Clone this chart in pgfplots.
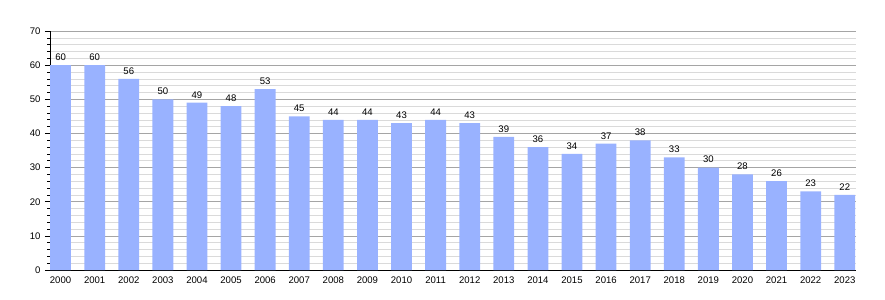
\documentclass[border=0pt]{standalone}
\usepackage{pgfplots}
\pgfplotsset{compat=1.18}
\usepackage{fontspec}
\setmainfont{Liberation Sans}
\definecolor{barblue}{RGB}{153,178,255}
\definecolor{majgrid}{RGB}{165,165,165}
\definecolor{mingrid}{RGB}{218,218,218}
\begin{document}
\begin{tikzpicture}
\path[use as bounding box] (0,0) rectangle (885bp,300bp);
\begin{axis}[
  at={(50bp,30bp)}, anchor=south west,
  scale only axis, width=806bp, height=239bp,
  ymin=0, ymax=70, xmin=-0.31, xmax=23.33,
  ytick={0,10,...,70}, minor y tick num=4,
  xtick={0,...,23},
  xticklabels={2000,2001,2002,2003,2004,2005,2006,2007,2008,2009,2010,2011,2012,2013,2014,2015,2016,2017,2018,2019,2020,2021,2022,2023},
  axis x line*=bottom, axis y line*=left,
  axis line style={black, -},
  x axis line style={line width=0.9pt},
  ymajorgrids, yminorgrids,
  major grid style={majgrid, line width=0.6pt},
  minor grid style={mingrid, line width=0.5pt},
  tick align=outside,
  major tick length=5bp, minor tick length=3bp,
  x tick style={draw=none},
  y tick style={black, line width=0.6pt},
  tick label style={font=\fontsize{9.6}{11}\selectfont},
  /pgf/number format/assume math mode=true,
  xticklabel style={yshift=1.5bp},
  yticklabel style={xshift=-1bp},
  ybar, bar width=0.61, bar shift=0pt,
  nodes near coords,
  every node near coord/.append style={font=\fontsize{9.6}{11}\selectfont, black, yshift=1bp},
  clip=false,
]
\addplot[fill=barblue, draw=none] coordinates {
(0,60) (1,60) (2,56) (3,50) (4,49) (5,48) (6,53) (7,45) (8,44) (9,44)
(10,43) (11,44) (12,43) (13,39) (14,36) (15,34) (16,37) (17,38) (18,33)
(19,30) (20,28) (21,26) (22,23) (23,22)};
\end{axis}
\end{tikzpicture}
\end{document}
